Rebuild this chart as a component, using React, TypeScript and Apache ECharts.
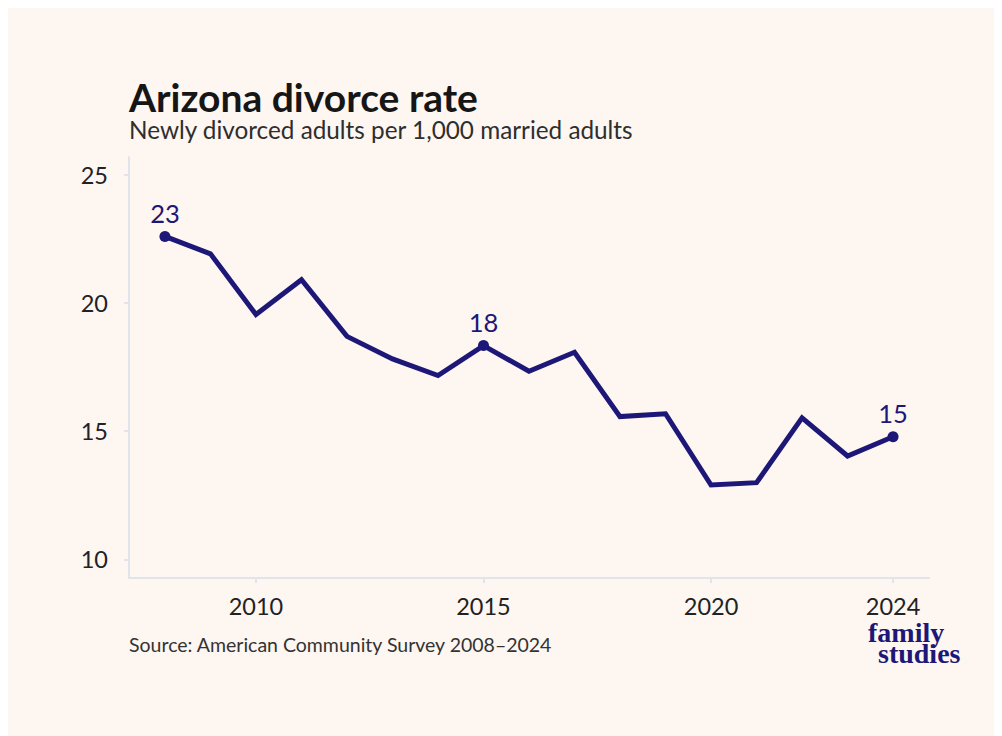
import React, { useEffect, useRef } from "react";
import * as echarts from "echarts";

const years = [2008, 2009, 2010, 2011, 2012, 2013, 2014, 2015, 2016, 2017, 2018, 2019, 2020, 2021, 2022, 2023, 2024];
const rates = [22.6, 21.92, 19.55, 20.91, 18.7, 17.82, 17.17, 18.34, 17.34, 18.08, 15.57, 15.68, 12.9, 12.99, 15.52, 14.03, 14.78];
const labeledYears = [2008, 2015, 2024];
const xTicks = [2010, 2015, 2020, 2024];
const yTicks = [10, 15, 20, 25];

const NAVY = "#1d1878";
const BG = "#fdf6f1";
const AXIS = "#e2e4ec";

export default function App() {
  const ref = useRef<HTMLDivElement>(null);
  useEffect(() => {
    if (!ref.current) return;
    const chart = echarts.init(ref.current, undefined, { renderer: "svg" });
    const data = years.map((y, i) => {
      const labeled = labeledYears.includes(y);
      return {
        value: [y, rates[i]],
        symbol: labeled ? "circle" : "none",
        symbolSize: labeled ? 11 : 0,
        label: { show: labeled },
      };
    });
    chart.setOption({
      animation: false,
      backgroundColor: BG,
      grid: { left: 121, right: 73, top: 149, bottom: 158 },
      xAxis: {
        type: "value",
        min: 2007.21,
        max: 2024.79,
        splitLine: { show: false },
        axisLine: { show: true, lineStyle: { color: AXIS, width: 2 } },
        axisTick: { show: true, length: 5, lineStyle: { color: AXIS, width: 2 }, customValues: xTicks },
        axisLabel: {
          customValues: xTicks,
          margin: 18,
          fontSize: 23.5,
          lineHeight: 20,
          color: "#222",
          fontFamily: "Lato",
          formatter: (v: number) => String(v),
        },
      },
      yAxis: {
        type: "value",
        min: 9.27,
        max: 25.7,
        splitLine: { show: false },
        axisLine: { show: true, lineStyle: { color: AXIS, width: 2 } },
        axisTick: { show: true, length: 5, lineStyle: { color: AXIS, width: 2 }, customValues: yTicks },
        axisLabel: {
          customValues: yTicks,
          margin: 21,
          fontSize: 23.5,
          color: "#222",
          fontFamily: "Lato",
        },
      },
      series: [
        {
          type: "line",
          data,
          showSymbol: true,
          lineStyle: { color: NAVY, width: 5, join: "miter" },
          itemStyle: { color: NAVY },
          label: {
            position: "top",
            distance: 5,
            fontSize: 25.5,
            fontFamily: "Lato",
            color: NAVY,
            formatter: (p: any) => String(Math.round(p.value[1])),
          },
          emphasis: { disabled: true },
        },
      ],
      graphic: [
        {
          type: "text",
          left: 121,
          y: 89,
          style: {
            text: "Arizona divorce rate",
            fontFamily: "Lato",
            fontWeight: "bold",
            fontSize: 39,
            lineHeight: 30,
            fill: "#161616",
            verticalAlign: "middle",
          },
        },
        {
          type: "text",
          left: 121,
          y: 121,
          style: {
            text: "Newly divorced adults per 1,000 married adults",
            fontFamily: "Lato",
            fontSize: 24.3,
            lineHeight: 20,
            fill: "#2e2e2e",
            verticalAlign: "middle",
          },
        },
        {
          type: "text",
          left: 121,
          y: 636,
          style: {
            text: "Source: American Community Survey 2008–2024",
            fontFamily: "Lato",
            fontSize: 19.5,
            fill: "#333",
            verticalAlign: "middle",
          },
        },
        {
          type: "text",
          x: 860,
          y: 624,
          style: {
            text: "family",
            fontFamily: "Liberation Serif",
            fontWeight: "bold",
            fontSize: 28,
            lineHeight: 15,
            fill: NAVY,
            verticalAlign: "middle",
          },
        },
        {
          type: "text",
          x: 870,
          y: 645,
          style: {
            text: "studies",
            fontFamily: "Liberation Serif",
            fontWeight: "bold",
            fontSize: 28,
            lineHeight: 15,
            fill: NAVY,
            verticalAlign: "middle",
          },
        },
      ],
    });
    return () => chart.dispose();
  }, []);
  return <div ref={ref} style={{ width: 994, height: 728 }} />;
}
